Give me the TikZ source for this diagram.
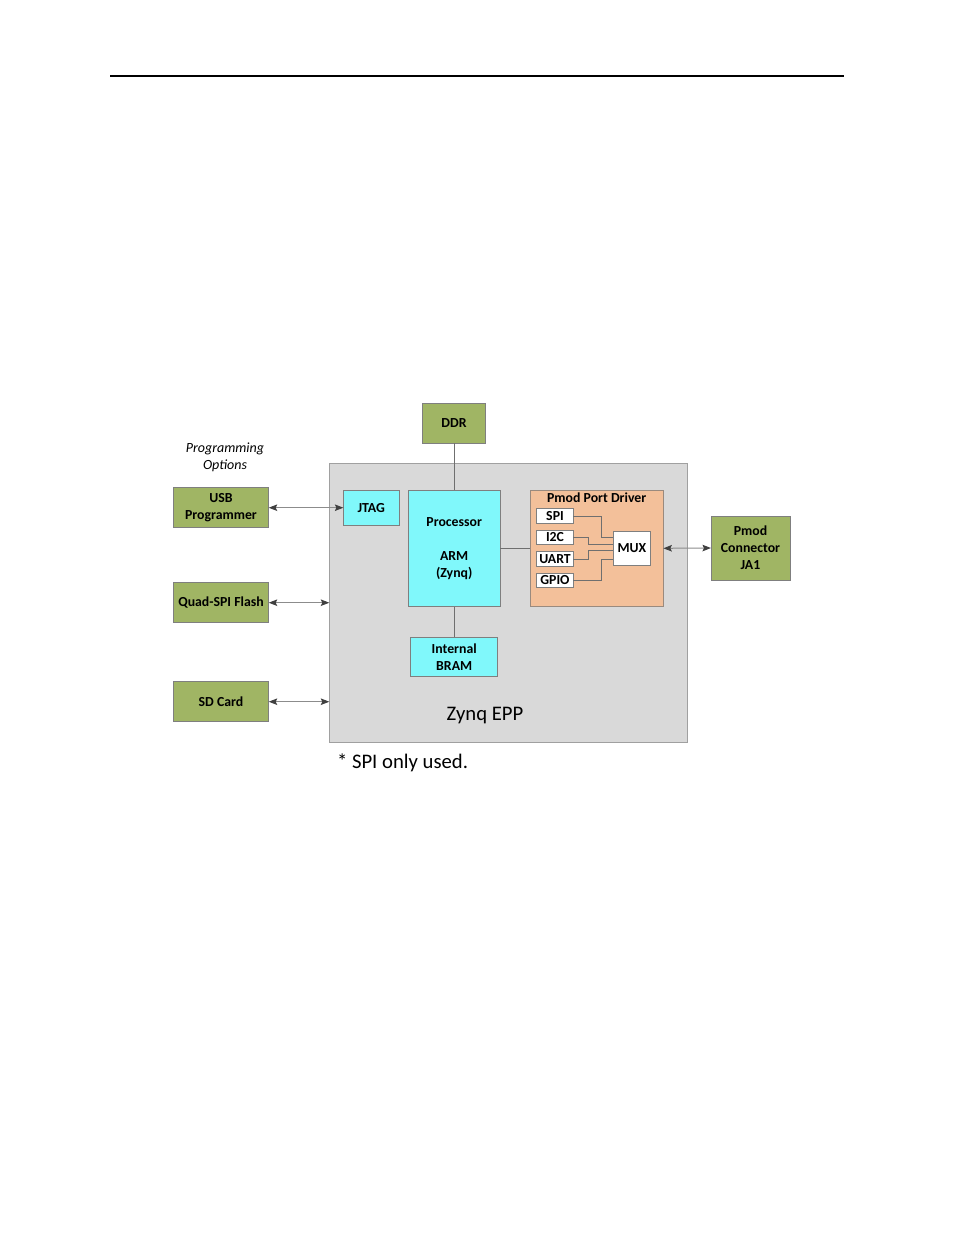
\documentclass[tikz,border=0pt]{standalone}
\usepackage{fontspec}
\setmainfont{Carlito}
\usepackage{tikz}
\usetikzlibrary{positioning,arrows.meta}
\definecolor{boardgreen}{HTML}{A0B564}
\definecolor{socgray}{HTML}{D9D9D9}
\definecolor{socedge}{HTML}{A0A0A0}
\definecolor{ipcyan}{HTML}{80F8FB}
\definecolor{driverpeach}{HTML}{F3C09A}
\definecolor{peachedge}{HTML}{9A8A7E}
\definecolor{edgegray}{HTML}{7F7F7F}
\definecolor{wiregray}{HTML}{6F6F6F}
\definecolor{arrowline}{HTML}{8C8C8C}
\definecolor{arrowhead}{HTML}{404040}
\newcommand{\blockfont}{\fontsize{13.8}{17}\selectfont\bfseries}
\newcommand{\bigfont}{\fontsize{20.7}{24}\selectfont}
\tikzset{
  block/.style={
    draw=edgegray,
    line width=0.9pt,
    inner sep=0pt,
    outer sep=0pt,
    align=center,
    font=\blockfont,
  },
  green box/.style={
    block,
    fill=boardgreen,
    minimum width={#1},
    minimum height=40pt,
  },
  green box/.default=95.4pt,
  cyan box/.style={
    block,
    fill=ipcyan,
  },
  port box/.style={
    block,
    fill=white,
    minimum width=36.6pt,
    minimum height=14.5pt,
  },
  link/.style={
    draw=wiregray,
    line width=0.8pt,
  },
  io arrow/.style={
    draw=arrowline,
    line width=1pt,
    {Stealth[length=8.5pt,width=6.5pt,inset=1.5pt,color=arrowhead]}-{Stealth[length=8.5pt,width=6.5pt,inset=1.5pt,color=arrowhead]},
  }
}

\begin{document}
\begin{tikzpicture}[x=1pt, y=-1pt, node distance=7pt]
    \useasboundingbox (0,0) rectangle (954,1235);
    \draw [line width=1.3pt] (110,76) -- (844,76);

    % Zynq device
    \node [fill=socgray, draw=socedge, line width=1pt, inner sep=0pt, outer sep=0pt,
           minimum width=358pt, minimum height=279pt] (zynq) at (508.3,602.5) {};
    \node [font=\bigfont] (zynqlabel) at (485,716) {Zynq EPP};

    \node [green box=63.4pt] (ddr) at (454,423.3) {DDR};
    \node [cyan box, minimum width=91.7pt, minimum height=116.7pt] (proc) at (454.2,548.3) {Processor\\[17pt]ARM\\(Zynq)};
    \node [cyan box, minimum width=55.7pt, minimum height=35.3pt] (jtag) at (371.2,507.7) {JTAG};
    \node [cyan box, minimum width=87pt, minimum height=39.4pt] (bram) at (454.2,657) {Internal\\BRAM};

    % Pmod port driver
    \node [block, fill=driverpeach, draw=peachedge, minimum width=133.3pt, minimum height=116.7pt] (driver) at (596.7,548.3) {};
    \node [font=\blockfont, anchor=north, inner sep=0pt] (drivertitle) at ([yshift=-3pt]driver.north) {Pmod Port Driver};
    \node [port box] (spi) at (555,516) {SPI};
    \node [port box, below=of spi] (i2c) {I2C};
    \node [port box, below=of i2c] (uart) {UART};
    \node [port box, below=of uart] (gpio) {GPIO};
    \node [block, fill=white, minimum width=37.2pt, minimum height=33.3pt] (mux) at (632,548.3) {MUX};

    % board parts
    \node [font=\fontsize{14}{17}\selectfont\itshape, align=center] (progopts) at (225,457.5) {Programming\\Options};
    \node [green box] (usb) at (221,507.7) {USB\\Programmer};
    \node [green box] (qspi) at (221,602.7) {Quad-SPI Flash};
    \node [green box] (sd) at (221,701.7) {SD Card};
    \node [green box=79pt, minimum height=64pt] (pmod) at (750.5,548) {Pmod\\Connector\\JA1};

    \node [font=\bigfont, anchor=west] (note) at (333.5,763) {* SPI only used.};

    \draw [link] (ddr.south) -- (ddr.south |- proc.north);
    \draw [link] (proc.south) -- (proc.south |- bram.north);
    \draw [link] (proc.east) -- (driver.west);
    \draw [link] (spi.east) -- ++(28.5,0) |- ([yshift=11pt]mux.west);
    \draw [link] (i2c.east) -- ++(15,0) |- ([yshift=3.5pt]mux.west);
    \draw [link] (uart.east) -- ++(15,0) |- ([yshift=-2.5pt]mux.west);
    \draw [link] (gpio.east) -- ++(28.5,0) |- ([yshift=-11.5pt]mux.west);

    \draw [io arrow] (usb.east) -- (jtag.west);
    \draw [io arrow] (qspi.east) -- (qspi.east -| zynq.west);
    \draw [io arrow] (sd.east) -- (sd.east -| zynq.west);
    \draw [io arrow] (driver.east) -- (pmod.west);
\end{tikzpicture}
\end{document}
